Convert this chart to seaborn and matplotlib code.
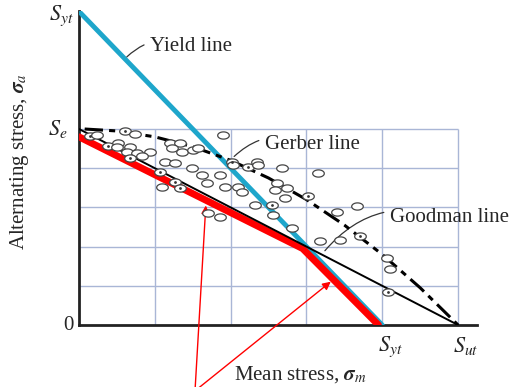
import numpy as np
import pandas as pd
import matplotlib.pyplot as plt
from matplotlib.path import Path
import seaborn as sns

# ========================
# Data
# ========================
S_UT = 100      # ultimate strength on the mean-stress axis
S_YT = 80       # yield strength
S_E = 50        # endurance limit

grid_x = [20, 40, 60, 80, 100]
grid_y = [10, 20, 30, 40, 50]

yield_x = [0, S_YT]
yield_y = [S_YT, 0]

goodman_x = [0, S_UT]
goodman_y = [S_E, 0]

gerber_x = [1.5, 10, 20, 30, 40, 50, 60, 70, 80, 90, 100]
gerber_y = [50, 49.5, 48, 45.5, 42, 37.5, 32, 25.5, 18, 9.5, 0]

# modified Goodman (red), drawn a little under the lines
red_x = [0, 59, 79]
red_y = [48, 19.5, 0]

test_x = [2.9, 4.7, 12.1, 14.8, 10.3, 7.7, 10.0, 13.5, 12.7, 15.3, 18.7, 16.6, 13.5,
          22.7, 25.3, 24.0, 26.6, 24.5, 27.2, 30.1, 29.8, 32.5, 21.4, 21.9, 25.3, 26.6,
          38.0, 31.4, 40.4, 40.6, 44.6, 47.0, 47.2, 53.6, 63.1, 37.2, 33.8, 38.5, 42.0,
          43.0, 52.2, 51.7, 54.9, 54.4, 46.4, 50.9, 60.4, 68.1, 73.4, 63.6, 68.9, 74.1,
          81.3, 82.1, 81.5, 51.2, 56.2, 34.0, 37.2]
test_y = [48.2, 48.5, 49.5, 48.7, 46.4, 45.7, 45.4, 45.4, 44.1, 43.9, 44.1, 43.1, 42.6,
          41.6, 41.3, 46.4, 46.4, 45.2, 44.1, 44.6, 40.1, 38.3, 39.0, 35.2, 36.5, 34.9,
          48.5, 45.2, 41.6, 40.8, 40.3, 41.6, 40.8, 40.1, 38.8, 38.3, 36.2, 35.2, 35.2,
          33.9, 36.2, 34.4, 34.9, 32.4, 30.6, 30.6, 32.9, 28.8, 30.4, 21.4, 21.7, 22.7,
          17.1, 14.3, 8.4, 28.1, 24.7, 28.6, 27.6]

# test points drawn with a dot in the middle
dot_x = [2.9, 12.1, 7.7, 13.5, 21.4, 25.3, 26.6, 40.4, 44.6, 50.9, 74.1, 81.5, 60.4]
dot_y = [48.2, 49.5, 45.7, 42.6, 39.0, 36.5, 34.9, 41.6, 40.3, 30.6, 22.7, 8.4, 32.9]

# ========================
# Style
# ========================
sns.set_style("white")
plt.rcParams['font.family'] = ['Liberation Serif', 'DejaVu Serif']
plt.rcParams['mathtext.fontset'] = 'stix'

fig = plt.figure(figsize=(5.17, 3.87), dpi=100)
ax = fig.add_axes([79 / 517, 62 / 387, 398 / 517, 313.6 / 387])
ax.set_xlim(0, 105)
ax.set_ylim(0, 80)

grid_col = "#a9b6d6"
ax.hlines(grid_y, 0, S_UT, color=grid_col, lw=1.0, zorder=1)
ax.vlines(grid_x, 0, S_E, color=grid_col, lw=1.0, zorder=1)

# ========================
# Lines
# ========================
sns.lineplot(x=yield_x, y=yield_y, ax=ax, color="#1ea6cb", lw=3.5, zorder=3)
sns.lineplot(x=red_x, y=red_y, ax=ax, color="#ff0000", lw=5, zorder=4, sort=False)
sns.lineplot(x=goodman_x, y=goodman_y, ax=ax, color="black", lw=1.4, zorder=5)
sns.lineplot(x=gerber_x, y=gerber_y, ax=ax, color="black", lw=2.2,
             linestyle=(0, (6, 2, 2, 2)), zorder=5)

# open elliptical circles for the test data
t = np.linspace(0, 2 * np.pi, 40)
ellipse = Path(np.column_stack([np.cos(t), 0.62 * np.sin(t)]))
pts = pd.DataFrame({"x": test_x, "y": test_y})
sns.scatterplot(data=pts, x="x", y="y", ax=ax, marker=ellipse, s=70,
                facecolor="white", edgecolor="#444444", linewidth=0.9, zorder=6)
sns.scatterplot(x=dot_x, y=dot_y, ax=ax, marker="o", s=4, color="#333333",
                linewidth=0, zorder=7)

# ========================
# Axes
# ========================
for side in ["top", "right"]:
    ax.spines[side].set_visible(False)
for side in ["left", "bottom"]:
    ax.spines[side].set_color("#222222")
    ax.spines[side].set_linewidth(2)
ax.set_xticks([])
ax.set_yticks([])
ax.set_xlabel("")
ax.set_ylabel("")

fs = 15
ax.text(-1.5, S_YT - 1, r"$S_{yt}$", ha="right", va="center", fontsize=16)
ax.text(-3, S_E, r"$S_{e}$", ha="right", va="center", fontsize=16)
ax.text(-1.5, 0, "0", ha="right", va="center", fontsize=fs)
ax.text(S_YT + 2, -2.5, r"$S_{yt}$", ha="center", va="top", fontsize=16)
ax.text(S_UT + 2, -2.5, r"$S_{ut}$", ha="center", va="top", fontsize=16)

fig.text(300 / 517, 1 - 375 / 387, r"Mean stress, $\boldsymbol{\sigma}_{m}$",
         ha="center", va="center", fontsize=fs)
fig.text(20 / 517, 1 - 162 / 387, r"Alternating stress, $\boldsymbol{\sigma}_{a}$",
         ha="center", va="center", rotation=90, fontsize=fs)

# labels with little leader curves
leader = dict(arrowstyle="-", color="#333333", lw=0.9)
ax.annotate("Yield line", xy=(12.1, 67.9), xytext=(18.7, 71),
            ha="left", va="center", fontsize=fs,
            arrowprops=dict(leader, connectionstyle="arc3,rad=0.35"))
ax.annotate("Gerber line", xy=(40.4, 42.5), xytext=(49, 46),
            ha="left", va="center", fontsize=fs,
            arrowprops=dict(leader, connectionstyle="arc3,rad=0.35"))
ax.annotate("Goodman line", xy=(64.4, 18.4), xytext=(82, 27.3),
            ha="left", va="center", fontsize=fs,
            arrowprops=dict(leader, connectionstyle="arc3,rad=0.35"))

# red pointer arrows from below the chart
red_arrow = dict(arrowstyle="-|>", color="red", lw=1.0, mutation_scale=12)
for tip in [(33.5, 31.2), (67, 11.5)]:
    ax.annotate("", xy=tip, xytext=(195 / 517, -0.01), textcoords="figure fraction",
                arrowprops=red_arrow, annotation_clip=False)

fig.savefig("out.png", dpi=100)
